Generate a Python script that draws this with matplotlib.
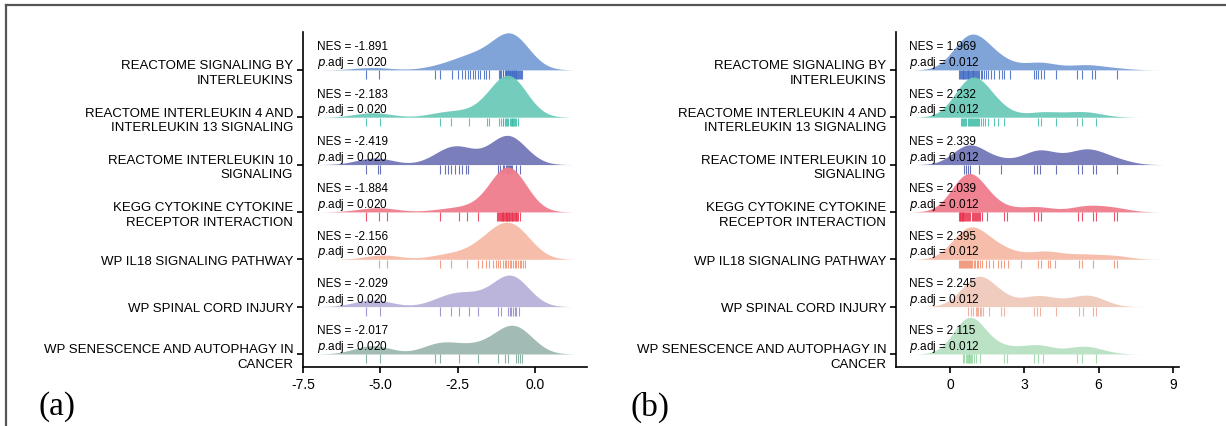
import numpy as np
import matplotlib
matplotlib.use("Agg")
import matplotlib.pyplot as plt
from matplotlib.lines import Line2D

plt.rcParams['font.family'] = ['Liberation Sans', 'DejaVu Sans']

# ---------------- data ----------------
pathways = [
    "REACTOME SIGNALING BY\nINTERLEUKINS",
    "REACTOME INTERLEUKIN 4 AND\nINTERLEUKIN 13 SIGNALING",
    "REACTOME INTERLEUKIN 10\nSIGNALING",
    "KEGG CYTOKINE CYTOKINE\nRECEPTOR INTERACTION",
    "WP IL18 SIGNALING PATHWAY",
    "WP SPINAL CORD INJURY",
    "WP SENESCENCE AND AUTOPHAGY IN\nCANCER",
]
nes_a = ["-1.891", "-2.183", "-2.419", "-1.884", "-2.156", "-2.029", "-2.017"]
padj_a = ["0.020"] * 7
nes_b = ["1.969", "2.232", "2.339", "2.039", "2.395", "2.245", "2.115"]
padj_b = ["0.012"] * 7

# gene-level values (rug marks), panel (a)
a_row1 = [-5.47, -5.04, -3.22, -3.06, -2.68, -2.49, -2.36, -2.25, -2.17, -2.09, -2.01, -1.94,
          -1.84, -1.77, -1.65, -1.57, -1.50, -1.17, -1.13, -1.09, -1.05, -1.02, -0.98, -0.95,
          -0.93, -0.91, -0.88, -0.86, -0.84, -0.82, -0.80, -0.78, -0.76, -0.74, -0.72, -0.69,
          -0.67, -0.65, -0.63, -0.61, -0.58, -0.56, -0.53, -0.50, -0.45, -0.41]
a_row2 = [-5.47, -5.02, -3.06, -2.70, -2.15, -1.55, -1.49, -1.17, -1.09, -1.05, -1.02, -0.97,
          -0.93, -0.90, -0.86, -0.82, -0.79, -0.76, -0.74, -0.71, -0.68, -0.64, -0.61, -0.54]
a_row3 = [-5.47, -5.07, -5.02, -3.08, -2.90, -2.80, -2.70, -2.60, -2.47, -2.35, -2.22, -2.17,
          -1.20, -1.12, -1.04, -0.99, -0.95, -0.91, -0.88, -0.85, -0.82, -0.78, -0.74, -0.63,
          -0.50]
a_row4 = [-5.47, -5.04, -4.80, -3.06, -2.47, -2.20, -1.84, -1.23, -1.19, -1.15, -1.12, -1.10,
          -1.08, -1.06, -1.04, -1.02, -0.99, -0.97, -0.95, -0.93, -0.91, -0.89, -0.87, -0.85,
          -0.83, -0.80, -0.78, -0.76, -0.74, -0.72, -0.69, -0.66, -0.63, -0.61, -0.58, -0.55,
          -0.50]
a_row5 = [-5.04, -4.80, -3.06, -2.70, -2.19, -1.84, -1.70, -1.58, -1.49, -1.36, -1.27, -1.20,
          -1.12, -1.04, -0.98, -0.93, -0.88, -0.82, -0.77, -0.71, -0.66, -0.61, -0.55, -0.50,
          -0.45, -0.39, -0.34]
a_row6 = [-5.47, -5.02, -3.06, -2.70, -2.47, -2.15, -1.84, -1.20, -1.09, -0.88, -0.82, -0.77,
          -0.71, -0.66, -0.61, -0.52]
a_row7 = [-5.47, -5.02, -3.24, -3.06, -2.47, -1.84, -1.20, -0.98, -0.88, -0.61, -0.55, -0.50,
          -0.42]

# gene-level values (rug marks), panel (b)
b_row1 = [0.38, 0.41, 0.44, 0.47, 0.51, 0.54, 0.58, 0.61, 0.65, 0.68, 0.71, 0.74, 0.78, 0.81,
          0.85, 0.88, 0.92, 0.95, 0.98, 1.01, 1.05, 1.09, 1.14, 1.19, 1.25, 1.30, 1.36, 1.45,
          1.55, 1.66, 1.79, 1.99, 2.10, 2.19, 2.44, 3.38, 3.47, 3.57, 3.67, 3.78, 4.28, 5.15,
          5.32, 5.72, 5.85, 6.74]
b_row2 = [0.44, 0.48, 0.51, 0.56, 0.61, 0.66, 0.71, 0.75, 0.79, 0.83, 0.87, 0.91, 0.96, 1.00,
          1.05, 1.09, 1.14, 1.19, 1.25, 1.34, 1.43, 1.55, 1.76, 1.95, 2.17, 3.54, 3.67, 4.28,
          5.15, 5.32, 5.90]
b_row3 = [0.55, 0.65, 0.74, 0.82, 1.18, 2.06, 3.41, 3.51, 3.63, 4.28, 5.18, 5.32, 5.76, 5.90,
          6.74]
b_row4 = [0.38, 0.40, 0.42, 0.44, 0.47, 0.49, 0.51, 0.54, 0.58, 0.61, 0.65, 0.68, 0.71, 0.76,
          0.82, 0.87, 0.92, 0.97, 1.01, 1.05, 1.09, 1.13, 1.18, 1.23, 1.28, 1.49, 2.17, 2.30,
          3.41, 3.54, 3.67, 5.18, 5.32, 5.76, 5.90, 6.61, 6.74]
b_row5 = [0.38, 0.41, 0.44, 0.48, 0.51, 0.55, 0.60, 0.64, 0.68, 0.73, 0.78, 0.82, 0.85, 0.90,
          0.96, 1.02, 1.09, 1.15, 1.22, 1.28, 1.45, 1.59, 1.72, 1.92, 2.06, 2.19, 2.36, 2.87,
          3.54, 3.67, 3.97, 4.05, 4.24, 5.22, 5.32, 5.76, 6.61, 6.74]
b_row6 = [0.71, 0.85, 0.95, 1.05, 1.10, 1.14, 1.20, 1.25, 1.35, 1.59, 2.06, 2.17, 3.38, 3.50,
          3.63, 4.28, 5.22, 5.36, 5.76, 5.90]
b_row7 = [0.51, 0.58, 0.65, 0.68, 0.71, 0.75, 0.78, 0.82, 0.85, 0.90, 0.96, 1.05, 1.22, 2.19,
          2.30, 3.41, 3.54, 3.74, 5.15, 5.32, 5.90]

rows_a = [a_row1, a_row2, a_row3, a_row4, a_row5, a_row6, a_row7]
rows_b = [b_row1, b_row2, b_row3, b_row4, b_row5, b_row6, b_row7]

xticks_a = [-7.5, -5.0, -2.5, 0.0]
xticklabels_a = ["-7.5", "-5.0", "-2.5", "0.0"]
xticks_b = [0, 3, 6, 9]
xticklabels_b = ["0", "3", "6", "9"]

# ---------------- styles ----------------
fill_a = ['#7A9FD6', '#6DCBB9', '#7378B9', '#F07C8C', '#F6BBA6', '#B9B1D9', '#9DB9B1']
rug_a = ['#3D68C2', '#3DBDA6', '#4F58AE', '#E8334F', '#F08E6E', '#8F86CB', '#78A597']
fill_b = ['#7A9FD6', '#6DCBB9', '#7378B9', '#F07C8C', '#F6BBA6', '#F0CABC', '#B9E1C3']
rug_b = ['#3D68C2', '#3DBDA6', '#4F58AE', '#E8334F', '#F08E6E', '#F2A58E', '#93D5A1']

W, H = 1226, 427
fig = plt.figure(figsize=(W / 100, H / 100), dpi=100)


def kde(vals, grid, bw):
    v = np.asarray(vals)[:, None]
    return np.exp(-0.5 * ((grid[None, :] - v) / bw) ** 2).sum(0) / (len(vals) * bw * np.sqrt(2 * np.pi))


def panel(rect, rows, fills, rugs, nes, padj, xlim, xticks, xticklabels, bw, peak, text_x):
    ax = fig.add_axes(rect)
    n = len(rows)
    curves = []
    for vals in rows:
        g = np.linspace(min(vals) - 3 * bw, max(vals) + 3 * bw, 400)
        curves.append((g, kde(vals, g, bw)))
    scale = peak / max(c[1].max() for c in curves)
    for i, (vals, (g, d)) in enumerate(zip(rows, curves)):
        base = n - 1 - i
        z = 2 + i
        ax.fill_between(g, base, base + d * scale, color=fills[i], lw=0, zorder=z, alpha=0.95)
        ax.vlines(vals, base - 0.19, base - 0.01, color=rugs[i], lw=0.8, alpha=0.85,
                  zorder=z + 0.5)
        ax.text(text_x, base + 0.50, "NES = " + nes[i], fontsize=8.5, va='center', ha='left',
                zorder=20)
        ax.text(text_x, base + 0.17, r"$\it{p}$" + ".adj = " + padj[i], fontsize=8.5,
                va='center', ha='left', zorder=20)
    ax.set_xlim(*xlim)
    ax.set_ylim(-0.275, 6.80)
    ax.set_yticks(range(n - 1, -1, -1))
    ax.set_yticklabels(pathways, fontsize=9.5, linespacing=1.25)
    ax.set_xticks(xticks)
    ax.set_xticklabels(xticklabels, fontsize=10)
    for s in ['top', 'right']:
        ax.spines[s].set_visible(False)
    for s in ['left', 'bottom']:
        ax.spines[s].set_linewidth(1.2)
    ax.tick_params(axis='both', length=4, width=1.2, pad=3)
    ax.set_facecolor('none')
    return ax


panel([303 / W, 1 - 368 / H, (587 - 303) / W, (368 - 33) / H], rows_a, fill_a, rug_a,
      nes_a, padj_a, (-7.5, 1.68), xticks_a, xticklabels_a, 0.55, 0.95, -7.05)
panel([896 / W, 1 - 368 / H, (1179 - 896) / W, (368 - 33) / H], rows_b, fill_b, rug_b,
      nes_b, padj_b, (-2.18, 9.25), xticks_b, xticklabels_b, 0.62, 0.85, -1.65)

serif = ['Liberation Serif', 'DejaVu Serif']
fig.text(57 / W, 1 - 407 / H, "(a)", fontsize=24, family=serif, ha='center', va='center')
fig.text(650 / W, 1 - 407 / H, "(b)", fontsize=24, family=serif, ha='center', va='center')

# outer frame (left and top edges)
fig.add_artist(Line2D([6 / W, 6 / W], [0, 1 - 6 / H], transform=fig.transFigure,
                      color='#555555', lw=1.6))
fig.add_artist(Line2D([6 / W, 1], [1 - 6 / H, 1 - 6 / H], transform=fig.transFigure,
                      color='#555555', lw=1.6))

fig.savefig("out.png", dpi=100, facecolor='white')
